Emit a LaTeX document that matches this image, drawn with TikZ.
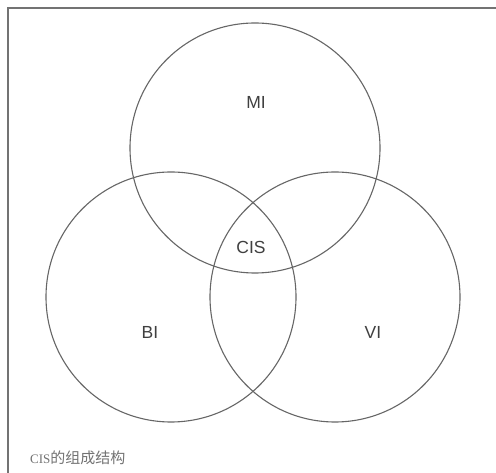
\documentclass[tikz,border=0pt]{standalone}
\usepackage{fontspec}
\setmainfont{Liberation Serif}
\newfontfamily\labelfont{Liberation Sans}
\newfontfamily\cjk{Noto Sans CJK SC}
\begin{document}
\begin{tikzpicture}[x=1pt,y=1pt,
  ring/.style={draw=black!60,line width=1.1pt},
  framel/.style={draw=black!55,line width=1.3pt},
  lbl/.style={font=\labelfont\fontsize{17.5}{19}\selectfont,text=black!75},
  captext/.style={font=\fontsize{13}{15}\selectfont,text=black!55,anchor=west,inner sep=0pt}]
\useasboundingbox (0,0) rectangle (496,473);
\fill[white] (0,0) rectangle (496,473);
\coordinate (tl) at (8,465);
\coordinate (tr) at (496,465);
\coordinate (bl) at (8,0);
\draw[framel] (tr) -- (tl) -- (bl);
\node[ring,circle,minimum size=250pt,inner sep=0pt] (mi) at (255,325) {};
\node[ring,circle,minimum size=250pt,inner sep=0pt] (bi) at (171,176) {};
\node[ring,circle,minimum size=250pt,inner sep=0pt] (vi) at (335,176) {};
\node[lbl] (milbl) at (256,371) {MI};
\node[lbl] (cislbl) at (251,226) {CIS};
\node[lbl] (bilbl) at (150,141) {BI};
\node[lbl] (vilbl) at (373,141) {VI};
\node[captext] (caption) at (30,15) {CIS{\cjk\fontsize{15}{15}\selectfont 的组成结构}};
\end{tikzpicture}
\end{document}
